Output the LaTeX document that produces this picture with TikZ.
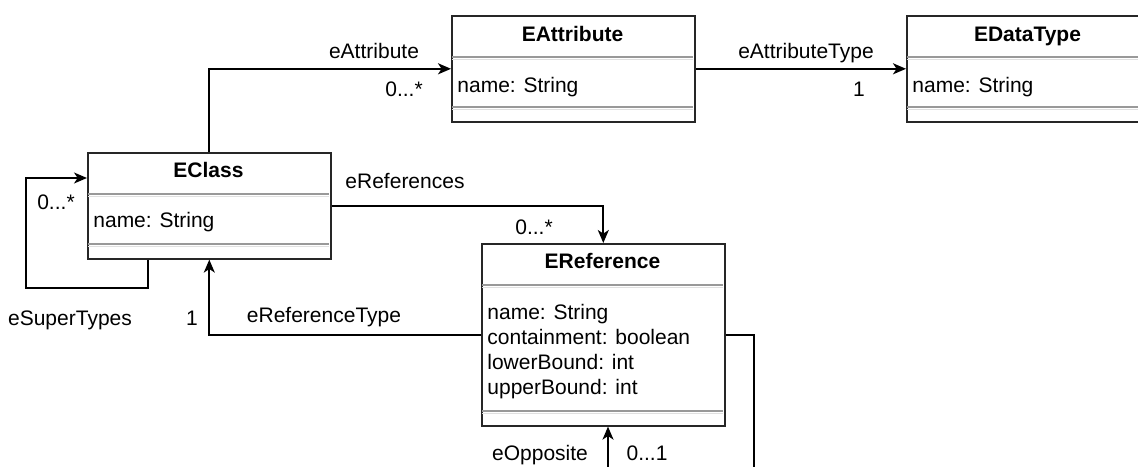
\documentclass[tikz,border=0pt]{standalone}
\usepackage{fontspec}
\setmainfont{Liberation Sans}
\usetikzlibrary{arrows.meta}
\begin{document}
\begin{tikzpicture}[x=0.5pt,y=-0.5pt,
  every node/.style={font=\fontsize{10.5}{12.6}\selectfont, inner sep=0pt},
  umlbox/.style={draw=black!85, line width=0.8pt, minimum width=121.5pt, anchor=north west, inner sep=0pt},
  title/.style={font=\fontsize{10.5}{12.6}\selectfont\bfseries, anchor=base},
  attr/.style={anchor=base west},
  lbl/.style={anchor=base},
  conn/.style={draw=black, line width=0.9pt},
  arr/.style={conn, -{Stealth[length=6.5pt,width=5.5pt,inset=1.8pt]}},
  sepA/.style={draw=black!40, line width=0.6pt},
  sepB/.style={draw=black!12, line width=0.8pt}]
\clip (0,0) rectangle (1138,466);
\fill[white] (0,0) rectangle (1138,466);
% boxes
\node[umlbox, minimum height=53pt] (eclass) at (87,152) {};
\node[umlbox, minimum height=53pt] (eattr) at (451,15) {};
\node[umlbox, minimum height=53pt] (edt) at (906,15) {};
\node[umlbox, minimum height=91pt] (eref) at (481,243) {};
% separators
\draw[sepA] (88,194) -- (329,194); \draw[sepB] (88,196.5) -- (329,196.5);
\draw[sepA] (88,244) -- (329,244); \draw[sepB] (88,246.5) -- (329,246.5);
\draw[sepA] (452,57) -- (693,57); \draw[sepB] (452,59.5) -- (693,59.5);
\draw[sepA] (452,107) -- (693,107); \draw[sepB] (452,109.5) -- (693,109.5);
\draw[sepA] (907,57) -- (1148,57); \draw[sepB] (907,59.5) -- (1148,59.5);
\draw[sepA] (907,107) -- (1148,107); \draw[sepB] (907,109.5) -- (1148,109.5);
\draw[sepA] (482,285) -- (723,285); \draw[sepB] (482,287.5) -- (723,287.5);
\draw[sepA] (482,411) -- (723,411); \draw[sepB] (482,413.5) -- (723,413.5);
% texts
\node[title] (eclassT) at (208.5,177) {EClass};
\node[attr] (eclassA) at (93,227) {name: String};
\node[title] (eattrT) at (572.5,41) {EAttribute};
\node[attr] (eattrA) at (457,92) {name: String};
\node[title] (edtT) at (1027.5,41) {EDataType};
\node[attr] (edtA) at (912,92) {name: String};
\node[title] (erefT) at (602.5,268) {EReference};
\node[attr] (erefA1) at (487,319) {name: String};
\node[attr] (erefA2) at (487,344) {containment: boolean};
\node[attr] (erefA3) at (487,369) {lowerBound: int};
\node[attr] (erefA4) at (487,394) {upperBound: int};
% connectors
\draw[arr] (eclass.north) |- (eattr.west);
\draw[arr] (eattr.east) -- (edt.west);
\draw[arr] (eclass.east) -| (eref.north);
\draw[arr] (eref.west) -| (eclass.south);
\coordinate (st1) at (148,288);
\coordinate (st2) at (26,288);
\coordinate (st3) at (26,178);
\draw[arr] (eclass.south -| st1) -- (st1) -- (st2) -- (st3) -- (st3 -| eclass.west);
\coordinate (opp1) at (754,475);
\draw[conn] (eref.east) -| (opp1);
\coordinate (opp2) at (608,475);
\draw[arr] (opp2) -- (opp2 |- eref.south);
% labels
\node[lbl] (l1) at (374,58) {eAttribute};
\node[lbl] (l2) at (404,96) {0...*};
\node[lbl] (l3) at (806,58) {eAttributeType};
\node[lbl] (l4) at (859,96) {1};
\node[lbl] (l5) at (405,188) {eReferences};
\node[lbl] (l6) at (534,234) {0...*};
\node[lbl] (l7) at (324,322) {eReferenceType};
\node[lbl] (l8) at (192,325) {1};
\node[lbl] (l9) at (56,209) {0...*};
\node[lbl] (l10) at (70,325) {eSuperTypes};
\node[lbl] (l11) at (540,460) {eOpposite};
\node[lbl] (l12) at (647,460) {0...1};
\end{tikzpicture}
\end{document}
